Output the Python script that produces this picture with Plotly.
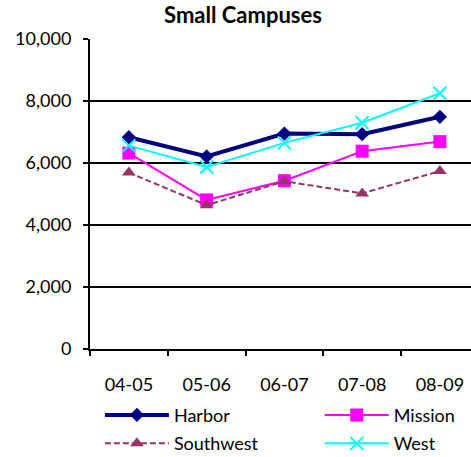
import plotly.graph_objects as go

years = ["04-05", "05-06", "06-07", "07-08", "08-09"]
harbor = [6830, 6210, 6950, 6930, 7490]
mission = [6320, 4810, 5430, 6380, 6690]
southwest = [5690, 4640, 5410, 5020, 5740]
west = [6560, 5870, 6650, 7300, 8250]
y_ticks = [0, 2000, 4000, 6000, 8000, 10000]

FONT = "Lato, 'Open Sans', sans-serif"

fig = go.Figure()
fig.add_trace(go.Scatter(x=years, y=harbor, name="Harbor", mode="lines+markers",
                         line=dict(color="#000080", width=4),
                         marker=dict(symbol="diamond", size=11, color="#000080"),
                         legend="legend", legendgroup="a"))
fig.add_trace(go.Scatter(x=years, y=mission, name="Mission", mode="lines+markers",
                         line=dict(color="#FF00FF", width=2),
                         marker=dict(symbol="square", size=13, color="#FF00FF"),
                         legend="legend2", legendgroup="b"))
fig.add_trace(go.Scatter(x=years, y=southwest, name="Southwest", mode="lines+markers",
                         line=dict(color="#993366", width=2, dash="6px,3px"),
                         marker=dict(symbol="triangle-up", size=12, color="#993366"),
                         legend="legend", legendgroup="c"))
fig.add_trace(go.Scatter(x=years, y=west, name="West", mode="lines+markers",
                         line=dict(color="#00FFFF", width=2),
                         marker=dict(symbol="x-thin", size=13, color="#00FFFF",
                                     line=dict(color="#00FFFF", width=2)),
                         legend="legend2", legendgroup="d"))

legend_common = dict(orientation="v", xanchor="left", yanchor="top", y=-0.154,
                     font=dict(family=FONT, size=18, color="#000"),
                     itemwidth=64, tracegroupgap=2, bgcolor="rgba(0,0,0,0)",
                     itemclick=False)

fig.update_layout(
    width=471, height=457,
    margin=dict(l=90, r=0, t=39, b=108, autoexpand=False),
    paper_bgcolor="white", plot_bgcolor="white",
    font=dict(family=FONT, size=18, color="#000"),
    title=dict(text="<b>Small Campuses</b>", x=243/471, xanchor="center",
               y=1 - 15/457, yanchor="middle", yref="container",
               font=dict(family=FONT, size=22, color="#000")),
    showlegend=True,
    legend=dict(x=0.026, **legend_common),
    legend2=dict(x=0.603, **legend_common),
    xaxis=dict(type="category", range=[-0.5, 4.4], showgrid=False,
               showline=True, linecolor="black", linewidth=2,
               ticks="outside", ticklen=5, tickwidth=1.5, tickcolor="black",
               tickson="boundaries", ticklabelstandoff=18,
               tickfont=dict(family=FONT, size=18, color="#000")),
    yaxis=dict(range=[0, 10000], tickvals=y_ticks, tickformat=",d",
               showgrid=True, gridcolor="black", gridwidth=1.5,
               showline=True, linecolor="black", linewidth=2,
               ticks="outside", ticklen=5, tickwidth=1.5, tickcolor="black",
               ticklabelstandoff=8, zeroline=False,
               tickfont=dict(family=FONT, size=18, color="#000")),
)

fig.write_html("out.html", config={"displayModeBar": False},
               post_script="document.body.style.margin='0';")
